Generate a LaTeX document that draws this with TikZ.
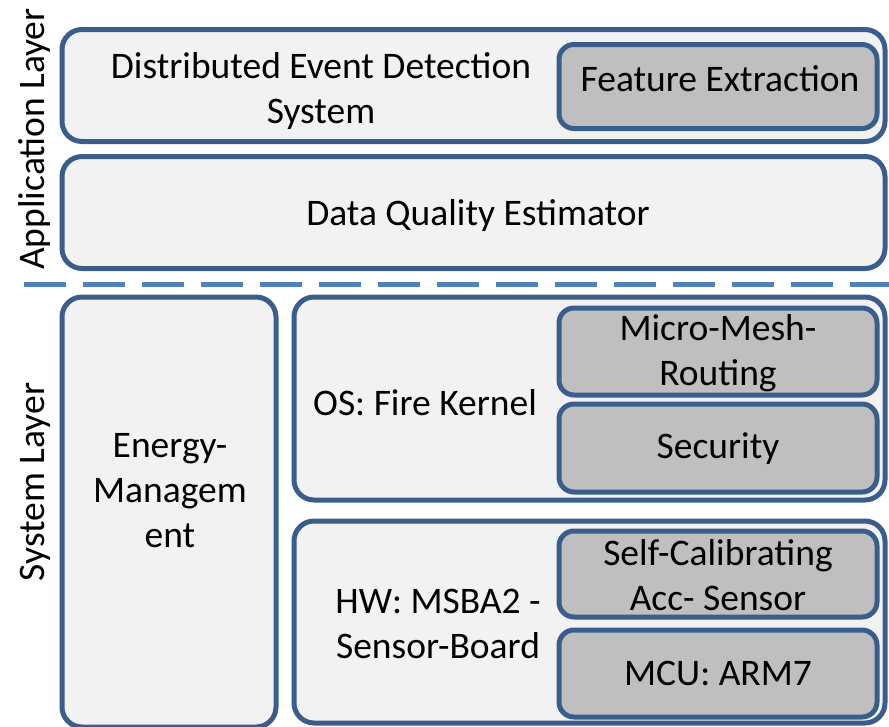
\documentclass[tikz,border=0pt]{standalone}
\usepackage{fontspec}
\setmainfont{Carlito}
\usepackage{tikz}
\usetikzlibrary{positioning}

\definecolor{edgeblue}{RGB}{58,94,140}
\definecolor{dashblue}{RGB}{79,129,189}
\definecolor{paleface}{RGB}{242,242,242}
\definecolor{greyface}{RGB}{191,191,191}

\begin{document}
\begin{tikzpicture}[x=1pt, y=-1pt,
  every node/.style={font=\fontsize{37.5}{45}\selectfont, align=center, inner sep=0pt},
  outerbox/.style={draw=edgeblue, fill=paleface, line width=5pt, rounded corners=20pt},
  innerbox/.style={draw=edgeblue, fill=greyface, line width=5pt, rounded corners=15pt},
  txt/.style={anchor=base}]

        \useasboundingbox (0,0) rectangle (889,726);

        % application layer
        \node[outerbox, minimum width=823pt, minimum height=112pt] (appbox) at (473.5,85.5) {};
        \node[txt] (ededs) at (321,123) {Distributed Event Detection\\System};
        \node[innerbox, minimum width=318pt, minimum height=84pt] (featx) at (718,86.5) {};
        \node[txt] (featxlbl) at (720,91) {Feature Extraction};

        \node[outerbox, minimum width=823pt, minimum height=112pt] (dqe) at (473.5,212.5) {};
        \node[txt] (dqelbl) at (478,225) {Data Quality Estimator};

        % separator between the two layers
        \coordinate (sepl) at (24,284);
        \coordinate (sepr) at (889,284);
        \draw[dashblue, line width=5pt, dash pattern=on 42pt off 17pt] (sepl) -- (sepr);

        % system layer (multi-line labels sit on their last baseline)
        \node[outerbox, minimum width=214pt, minimum height=430pt] (energy) at (169,512) {};
        \node[txt] (energylbl) at (170,547) {Energy-\\Managem\\ent};

        \node[outerbox, minimum width=591pt, minimum height=203pt] (osbox) at (589.5,398.5) {};
        \node[txt] (oslbl) at (425,415) {OS: Fire Kernel};
        \node[innerbox, minimum width=318pt, minimum height=87pt] (mmr) at (718,351.5) {};
        \node[txt] (mmrlbl) at (718,385) {Micro-Mesh-\\Routing};
        \node[innerbox, minimum width=318pt, minimum height=88pt] (secu) at (718,448) {};
        \node[txt] (seculbl) at (718,458) {Security};

        \node[outerbox, minimum width=591pt, minimum height=202pt] (hwbox) at (589.5,622) {};
        \node[txt] (hwlbl) at (438,658) {HW: MSBA2 -\\Sensor-Board};
        \node[innerbox, minimum width=318pt, minimum height=86pt] (accs) at (718,574) {};
        \node[txt] (accslbl) at (718,610) {Self-Calibrating\\Acc- Sensor};
        \node[innerbox, minimum width=318pt, minimum height=87pt] (mcu) at (718,673.5) {};
        \node[txt] (mculbl) at (718,685) {MCU: ARM7};

        % layer names
        \node[txt, rotate=90] (applayer) at (44,139) {Application Layer};
        \node[txt, rotate=90] (syslayer) at (44,482) {System Layer};

\end{tikzpicture}
\end{document}
